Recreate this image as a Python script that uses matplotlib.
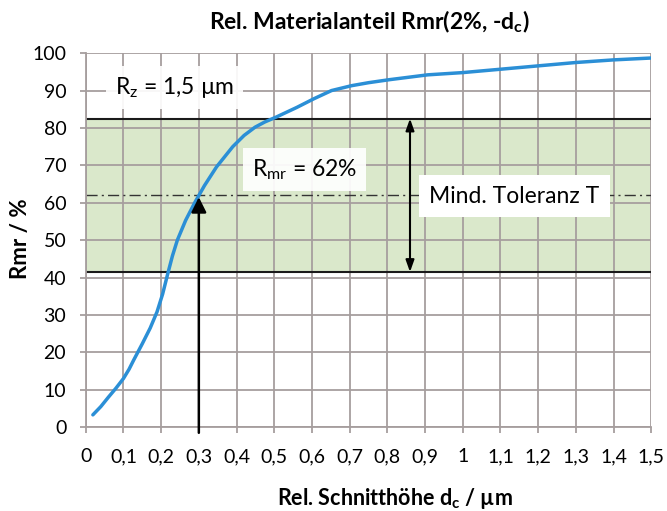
import matplotlib
matplotlib.use("Agg")
import matplotlib.pyplot as plt

plt.rcParams['font.family'] = ['Lato', 'DejaVu Sans']
plt.rcParams['mathtext.fontset'] = 'custom'
plt.rcParams['mathtext.rm'] = 'Lato'
plt.rcParams['mathtext.bf'] = 'Lato:bold'

# Abbott curve
dc = [0.019, 0.04, 0.06, 0.08, 0.10, 0.115, 0.127, 0.15, 0.171, 0.189,
      0.204, 0.217, 0.23, 0.243, 0.265, 0.289, 0.315, 0.347, 0.39, 0.42,
      0.449, 0.475, 0.505, 0.56, 0.605, 0.652, 0.705, 0.75, 0.805, 0.907,
      1.0, 1.1, 1.2, 1.3, 1.4, 1.5]
rmr = [3.3, 5.5, 8.0, 10.4, 13.0, 15.5, 17.9, 22.3, 26.5, 30.8,
       35.6, 40.8, 45.8, 50.0, 55.3, 60.0, 64.6, 69.6, 75.0, 78.0,
       80.2, 81.6, 82.9, 85.5, 87.8, 90.0, 91.3, 92.1, 92.9, 94.2,
       94.8, 95.7, 96.6, 97.5, 98.2, 98.7]

tol_low = 41.5
tol_high = 82.5
rmr_level = 62
dc_mark = 0.3
arrow_x = 0.86

xticks = [i / 10 for i in range(16)]
xlabels = ['0', '0,1', '0,2', '0,3', '0,4', '0,5', '0,6', '0,7', '0,8', '0,9',
           '1', '1,1', '1,2', '1,3', '1,4', '1,5']
yticks = list(range(0, 101, 10))

grid_col = '#a69e9e'

fig = plt.figure(figsize=(6.67, 5.11), dpi=100)
ax = fig.add_axes([0.1285, 0.164, 0.848, 0.732])

ax.set_xlim(0, 1.5)
ax.set_ylim(0, 100)
ax.set_axisbelow(True)
ax.grid(True, color=grid_col, linewidth=1.3)

ax.axhspan(tol_low, tol_high, color='#dae8cb', zorder=0.3, lw=0)
ax.axhline(tol_high, color='#1a1a1a', lw=1.5, zorder=2)
ax.axhline(tol_low, color='#1a1a1a', lw=1.5, zorder=2)
ax.axhline(rmr_level, color='#333333', lw=1.0, ls=(0, (8, 3, 1.5, 3)), zorder=2)

ax.plot(dc, rmr, color='#2b8fd6', lw=2.5, zorder=4,
        solid_capstyle='round', solid_joinstyle='round')

# arrow at d_c = 0.3 up to Rmr
ax.annotate('', xy=(dc_mark, rmr_level - 0.5), xytext=(dc_mark, -1.5),
            arrowprops=dict(arrowstyle='-|>,head_length=0.9,head_width=0.45',
                            color='black', lw=1.8, shrinkA=0, shrinkB=0),
            annotation_clip=False, zorder=5)
# double arrow tolerance
ax.annotate('', xy=(arrow_x, tol_high), xytext=(arrow_x, tol_low),
            arrowprops=dict(arrowstyle='<|-|>,head_length=0.7,head_width=0.25',
                            color='black', lw=1.5, shrinkA=0, shrinkB=0),
            zorder=5)

box = dict(boxstyle='square,pad=0.4', facecolor='white', edgecolor='none', alpha=0.92)
ax.text(0.236, 90.9, r'R$_\mathregular{z}$ = 1,5 µm', fontsize=16.5,
        ha='center', va='center', bbox=box, zorder=6)
ax.text(0.58, 68.8, r'R$_\mathregular{mr}$ = 62%', fontsize=16.5,
        ha='center', va='center', bbox=box, zorder=6)
ax.text(1.136, 61.8, 'Mind. Toleranz T', fontsize=16.5,
        ha='center', va='center', bbox=dict(boxstyle='square,pad=0.45',
        facecolor='white', edgecolor='none'), zorder=6)

ax.set_xticks(xticks)
ax.set_xticklabels(xlabels)
ax.set_yticks(yticks)
ax.tick_params(axis='both', labelsize=14, color=grid_col, length=4, width=1.3)
ax.tick_params(axis='x', pad=11)
ax.tick_params(axis='y', pad=10)
for s in ['top', 'right']:
    ax.spines[s].set_visible(False)
for s in ['left', 'bottom']:
    ax.spines[s].set_color(grid_col)
    ax.spines[s].set_linewidth(1.3)

fig.text(0.553, 1 - 22 / 511, r'Rel. Materialanteil Rmr(2%, -d$_\mathbf{c}$)',
         fontsize=16.5, fontweight='bold', ha='center', va='center')
ax.set_xlabel(r'Rel. Schnitthöhe d$_\mathbf{c}$ / µm', fontsize=15.5,
              fontweight='bold', va='center')
ax.xaxis.set_label_coords(0.546, -0.19)
ax.set_ylabel('Rmr / %', fontsize=16, fontweight='bold', va='center')
ax.yaxis.set_label_coords(-0.116, 0.503)

fig.savefig('out.png', dpi=100)
